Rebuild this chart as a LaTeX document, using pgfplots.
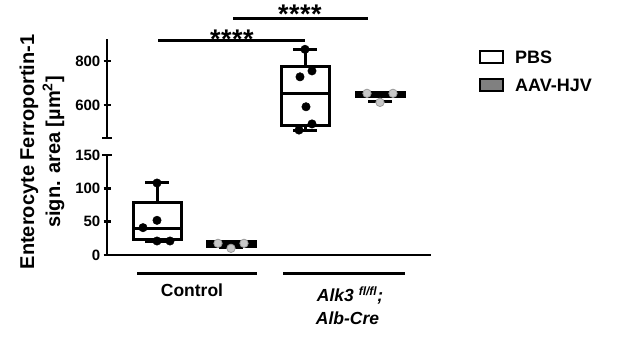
\documentclass[border=0pt]{standalone}
\usepackage{fontspec}
\setmainfont{Liberation Sans}
\usepackage{pgfplots}
\pgfplotsset{compat=1.18}
\usepgfplotslibrary{statistics}
\definecolor{aavfill}{HTML}{808080}
\definecolor{aavpt}{HTML}{C8C8C8}
\definecolor{aavedge}{HTML}{9A9A9A}
\newcommand\fs[1]{\fontsize{#1}{#1}\selectfont\bfseries}
\pgfplotsset{brk/.style={
  scale only axis, width=324pt, xmin=107, xmax=431, xtick=\empty,
  every inner x axis line/.append style={-},
  every inner y axis line/.append style={-},
  axis line style={line width=2.5pt,-},
  tick style={line width=2.5pt,black}, major tick length=7pt, tick align=outside,
  ytick pos=left,
  yticklabel style={font=\fs{15}, inner sep=3pt},
  boxplot/draw direction=y,
  /pgf/number format/assume math mode=true, clip=false},
  pbsbox/.style={black, line width=3pt, fill=white, line join=miter},
  aavbox/.style={black, line width=3pt, fill=aavfill, line join=miter},
  pbspt/.style={only marks, mark=*, mark size=4.2pt, mark options={fill=black, draw=black, line width=0.5pt}},
  aavpt/.style={only marks, mark=*, mark size=4.2pt, mark options={fill=aavpt, draw=aavedge, line width=0.8pt}}
}
\begin{document}
\begin{tikzpicture}
\useasboundingbox (0,0) rectangle (621pt,339pt);
% lower segment
\begin{axis}[brk, at={(107pt,84pt)}, anchor=south west, height=100pt,
  ymin=0, ymax=150, ytick={0,50,100,150},
  axis x line=bottom, axis y line=left, axis line style={-}]
\addplot[pbsbox, boxplot prepared={draw position=157, lower whisker=20, lower quartile=23,
  median=40, upper quartile=79, upper whisker=108, box extend=48, whisker extend=24}] coordinates {};
\addplot[aavbox, boxplot prepared={draw position=231, lower whisker=11, lower quartile=12,
  median=17, upper quartile=20, upper whisker=20, box extend=48, whisker extend=24}] coordinates {};
\addplot[pbspt] coordinates {(157,108) (157,52) (143,41) (157,21) (170,21)};
\addplot[aavpt] coordinates {(218,17.5) (231,10) (244,17.5)};
\end{axis}
% upper segment
\begin{axis}[brk, at={(107pt,201pt)}, anchor=south west, height=99pt,
  ymin=450, ymax=900, ytick={600,800},
  axis x line=none, axis y line=left, axis line style={-}]
\addplot[pbsbox, boxplot prepared={draw position=305, lower whisker=484, lower quartile=507,
  median=653, upper quartile=777, upper whisker=853, box extend=48, whisker extend=24}] coordinates {};
\addplot[aavbox, boxplot prepared={draw position=380, lower whisker=618, lower quartile=640,
  median=650, upper quartile=657, upper whisker=657, box extend=48, whisker extend=24}] coordinates {};
\addplot[pbspt] coordinates {(305,853) (300,728) (312,755) (306,592) (312,514) (299,486)};
\addplot[aavpt] coordinates {(367,653) (393,653) (380,612)};
\end{axis}
\begin{scope}[x=1pt, y=-1pt, shift={(0pt,339pt)}]
  % break caps
  \draw[line width=2.5pt] (102,138) -- (112,138);
  \draw[line width=2.5pt] (102,155) -- (112,155);
  % significance bars
  \draw[line width=3pt] (158,41) -- (305,41);
  \draw[line width=3pt] (233,19) -- (368,19);
  \node[font=\fs{27}, inner sep=0, anchor=base] at (232,48.5) {*\kern0.5pt*\kern0.5pt*\kern0.5pt*};
  \node[font=\fs{27}, inner sep=0, anchor=base] at (300,23.5) {*\kern0.5pt*\kern0.5pt*\kern0.5pt*};
  % group lines
  \draw[line width=3pt] (137,274) -- (257,274);
  \draw[line width=3pt] (283,274) -- (405,274);
  \node[font=\fs{17.5}, inner sep=0, anchor=base] at (192,297) {Control};
  \node[font=\fs{17.5}\itshape, inner sep=0, anchor=base] at (350,302) {Alk3 \textsuperscript{\fontsize{12}{12}\selectfont fl/fl};};
  \node[font=\fs{17.5}\itshape, inner sep=0, anchor=base] at (347.5,325) {Alb-Cre};
  % y label
  \node[font=\fs{20}, inner sep=0, rotate=90, anchor=base] at (34,152) {Enterocyte Ferroportin-1};
  \node[font=\fs{20}, inner sep=0, rotate=90, anchor=base] at (60,152) {sign. area [µm\textsuperscript{2}]};
  % legend
  \draw[line width=2.8pt, fill=white] (480,51) rectangle (503,63);
  \draw[line width=2.8pt, fill=aavfill] (480,79) rectangle (503,91);
  \node[font=\fs{18}, inner sep=0, anchor=west] at (515,57) {PBS};
  \node[font=\fs{18}, inner sep=0, anchor=west] at (515,85) {AAV-HJV};
\end{scope}
\end{tikzpicture}
\end{document}
